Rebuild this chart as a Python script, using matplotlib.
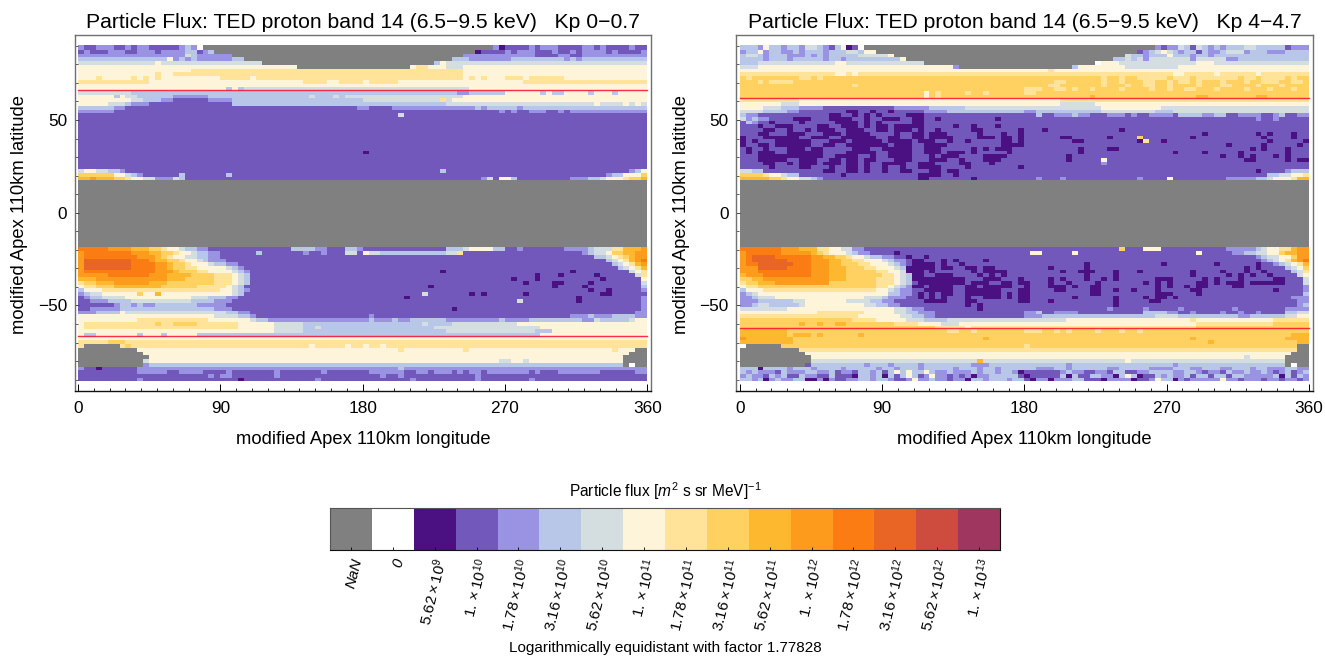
import numpy as np
import matplotlib
matplotlib.use("Agg")
import matplotlib.pyplot as plt
from matplotlib.colors import ListedColormap, BoundaryNorm
from matplotlib.transforms import ScaledTranslation

plt.rcParams["font.family"] = ["Liberation Sans", "DejaVu Sans"]
plt.rcParams["mathtext.fontset"] = "custom"
plt.rcParams["mathtext.rm"] = "Liberation Sans"
plt.rcParams["mathtext.it"] = "Liberation Sans:italic"
plt.rcParams["mathtext.default"] = "it"

# colour classes: N = NaN, 0 = zero, then 1..e = the logarithmic flux steps
CODES = list("N0123456789abcde")
COLORS = ["#808080", "#ffffff", "#4b1082", "#7358bc", "#9a93e3", "#b8c6e8",
          "#d4dde0", "#fdf4da", "#fee398", "#fed160", "#fdb830", "#fd9c1c",
          "#fc7c14", "#e86526", "#ce4c3d", "#9f3660"]
BAR_LABELS = ["NaN", "0", r"$5.62\times10^{9}$", r"$1.\times10^{10}$",
              r"$1.78\times10^{10}$", r"$3.16\times10^{10}$", r"$5.62\times10^{10}$",
              r"$1.\times10^{11}$", r"$1.78\times10^{11}$", r"$3.16\times10^{11}$",
              r"$5.62\times10^{11}$", r"$1.\times10^{12}$", r"$1.78\times10^{12}$",
              r"$3.16\times10^{12}$", r"$5.62\times10^{12}$", r"$1.\times10^{13}$"]

TITLES = ["Particle Flux: TED proton band 14 (6.5\u22129.5 keV)   Kp 0\u22120.7",
          "Particle Flux: TED proton band 14 (6.5\u22129.5 keV)   Kp 4\u22124.7"]
RED_LATS = [[66, -66.5], [62, -62.4]]

# rows run north to south, "3:5" means five cells of class 3
P1_NORTH = [
    "3 2:2 3:3 2:2 3 2 3:2 2:5 3 4 3 0 N:49 3 1 2:4 3 2 3:3 2:4 3:2 2 3 2:4 3 2:2",
    "2 3 2:3 3:3 2:2 3:3 2 3:4 4:2 2 3 4 N:44 1 2:4 3 2 3:3 2:3 3 2:2 3 2 3:4 2 3 2:4 3",
    "3:18 5 4 3:6 N:39 3:12 2:4 3:2 2:2 3:11",
    "4:15 6 3 4 3 4 3:6 4:2 N:35 4:3 3:7 4:9 3 4 3 4:11",
    "5:13 6 5:17 N:29 4 6 5:34",
    "6:37 N:19 6 7:2 6:3 5:3 6:31",
    "6:19 7:46 6:31",
    "6:13 7 6:2 7:49 6:31",
    "6:3 7 6:5 7 6 7 6 7 6:10 7:5 6 7:35 6 7 6 7 6:3 7:3 6 7:6 6:14",
    "7:12 6:26 7:4 6:2 7:4 6 7:5 6:21 7:21",
    "6:96",
    "6:25 4 6 4 5:38 6:30",
    "5:9 4:55 3:2 4:6 6:6 4 6 4:2 6:4 4 6:3 4 6:5",
    "6:6 4 6 5:2 4:6 3:6 4:17 5 4:3 5 4 5:3 5:17 6:31",
    "6:9 5:2 4:3 3:2 2:6 3:4 4:22 5:13 7 5 6:2 6:31",
    "6:5 5:3 4 3:3 2:14 4:22 4:14 5:3 5:22 6 5:4 6 5 6 5",
    "4:6 3:2 2:39 3 3 2:4 3:14 4 3 4 4:4 3 4:21",
    "3:6 2:65 3 2 3 2:2 3:3 2:2 3 2 3:13",
    "2:54 5 2:41",
    "2:96", "2:96", "2:96", "2:96", "2:96", "2:96", "2:96", "2:96", "2:96",
    "2:48 1 2:47",
    "2:96", "2:96", "2:96", "2:96",
    "5 6:2 5:2 4 4 3 2:53 4 2:31 3 4 6",
    "8:6 6:2 5 4 3 2:6 4 2:7 4 2:63 3 4:2 6 6:2 8",
    "9:2 a 9:3 8:2 7 6:2 5:2 3:3 5 4 2:50 3 5 2 6:2 4 2:9 3:3 4:2 5 6:3 7 8:2 9",
]
P1_SOUTH = [
    "b:5 a:4 9:3 8:2 7 6:2 5 4:2 3:2 2:14 4:4 3:2 2:3 4:2 3 2:14 4:3 5 6:4 4:2 2:2 3 2:7 3:4 4 5:3 7:2 9:3 a",
    "a b:8 a:3 9:2 8:2 7 6:2 5 4:2 3:2 2:6 4 2:7 3 2:2 3 2:3 5:2 2 6 5:2 4:11 5:2 7 2:20 3 4 5:2 6 8:2 9:2 a:2",
    "a b:9 a:3 9 8 7 6:2 5:2 4:2 3:2 2:63 4:2 5 6 7 8 9 a:2",
    "a c:8 b:3 a 9:2 8:2 7 6:2 5 4 3:3 2:64 4 5 6 7 9 a b",
    "a c:8 b:4 a:2 9 8:2 7 6:3 5 4:2 3:2 2:63 4 5 6 7 9 a",
    "a c:8 b:4 a:2 9 8:2 7:2 6:5 5 4 3 2:63 4 5 6 7 9",
    "a b:12 a:3 9 8:3 7:2 6:4 5 4 3 2:64 5 6 7",
    "a:5 b:7 a:3 9:4 8:4 7:3 6 5 4 2:65 5 7",
    "9:3 a:12 9:3 8:5 7:3 6 5 4 2:66 6",
    "7 8:2 9:3 a:6 9:3 8:8 7:3 6 5 4 2:66 5",
    "6 7:2 8:3 9:8 8:6 7:5 6 5 4 2:67 4",
    "4 6:3 7:20 6:2 5 4 3 2:66 3",
    "3 4 5:2 6:6 8 6:2 9 6:12 5 4 2:68",
    "2 3 4:2 5:4 6:11 5:3 4:3 3:2 2:68 3",
    "2:2 3:3 4:4 5:10 4:4 3:3 2:69 3",
    "2:6 3 4:2 3 4 3:2 4:7 3:5 2:70 3",
    "2:2 3:5 4:16 3:3 2:69 3",
    "3:3 4:4 6 5:17 4:2 3:2 2:65 3:2",
    "6:23 5:4 4:2 3 2:18 2 3 2:33 3:3 4 3:3 4:4 3:2",
    "6:10 7:12 6:7 5 4:2 3:4 3:13 4 3:3 4 3:2 4:6 3:9 4 3:4 4:9 3:2 5 4:5 5 6:2",
    "6 7:12 8 7:2 8:4 7:7 6:6 5:5 4:10 4:10 5 4:4 5:11 6:22",
    "6 7:26 6:6 5:5 4:2 5 4:7 4:12 5:18 6:18",
    "6:33 5:5 4:10 4:14 5:15 4:3 6:16",
    "6 4:2 6:7 4 6:3 4 6:5 4:58 6:18",
    "6:96",
    "7:5 8:3 7:88",
    "7 N:6 7 8 7:30 6 7:5 6 7:2 6 7:2 6 7:44",
    "N:10 6:44 7 6:10 7 6:24 7 6:3 N:2",
    "N:11 6:82 N:3",
    "N:12 6:80 N:4",
    "N:11 5 6:59 5:2 6:2 5 6:16 N:4",
    "N:11 3 4:80 N 0 N:2",
    "3 2:2 1 2:6 3:44 4 3:41",
    "2:10 3:5 2:2 3:4 2:4 3 2:7 3 2:7 3 2:7 3:6 2:2 3:2 2 3:3 2 3 2 3:2 2 3:7 2 3 2:3 3:7 2:6 3:2",
    "2:22 3 2 3:2 2:7 3 2:17 3 2:2 3 2:12 3 2:28",
    "2:10 3 2:16 1 2:12 3 2:15 3 2:10 3 2:8 3 2:19",
]
P2_NORTH = [
    "4:3 3 6 4:2 3 4:2 3 5:2 4 3 2 4 6 1 2 0 N:49 3 2 3:2 5 4 2 5 4 3 4 3 4:3 5:2 4:5 2 3:3",
    "3 4:2 6 3 4:2 3:2 4 3 4:3 3 4 4:2 5:2 4 6:2 N:44 2 3 4 5 6 5 4 3 4:2 2 4 3:2 4 5:3 3 4:3 3:3 4:4",
    "4 5:2 4 3 4:3 3:3 4 3 4 3 4:5 5:5 6 N:39 5 4:2 3 4:3 6 4:3 3 4:2 3 4:16",
    "4:4 3 4:3 3 4:5 3 4:2 3 4:9 6 N:35 4:2 5 4 5 3 5:7 3 5:5 3:2 4:12",
    "4:3 5:13 6:2 5:13 N:29 0 6:3 5:13 6:3 5:16",
    "5:3 6:33 3 N:19 4 6:8 5:9 6:22",
    "6:52 7 6:43",
    "7:16 6:2 7 6 7:53 6:2 7:5 6 7:6 6 7:8",
    "8 7 8:8 7:2 8 7 8:34 8:10 8:3 7 8:2 7 8:2 7:5 8 7:3 8 7:7 8 7:2 8 7:4 8 7 8:2",
    "8:3 7 8 7:4 8:44 7:2 8:6 7 8:2 7 8:3 7:2 8:2 7 8 7:2 8 7 8:3 7 8:3 7 8:2 7:3 8:2 7:2 8",
    "8:19 7 8:32 7:2 8:7 7 8:3 7 8:2 7:2 8:2 7 8:4 7 8:3 7:2 8:4 7 8:3 7 8:4",
    "8:48 7:3 8:2 7:2 8 7 8:2 7 8:4 7 8:4 7 8:2 7 8:2 7:2 8:3 7 8:4 7 8:3 7 8:3 7 8:2",
    "8:31 6 8 7 8:4 7 8:2 7 8:6 7:2 8:46",
    "8:31 6 8 7 8:14 8:11 9 8:17 9:2 8:8 9:2 8:7",
    "7:10 6:38 6:6 7:42",
    "6:7 5:3 6:38 6:6 5:6 6:36",
    "6:4 5:3 4:3 3:4 2:12 3:6 4:6 5:23 6:10 5:25",
    "5:4 4:4 3:2 2:15 1 2:5 3:4 4:13 3:2 4:11 5:9 4:3 5:23",
    "4 3:2 2:45 2:2 4 2:2 3:3 4 3:2 2:3 3:3 2 3 2:2 3:4 2 4:4 3:2 4:2 2:2 3:4 2:2 3 4 2:2 3:2",
    "5 3 4 3:2 2:82 3 2:2 3 2:5",
    "2 4 3 2:93",
    "2:96", "2:96", "2:96", "2:96", "2:96", "2:96", "2:96", "2:96", "2:96", "2:96", "2:96",
    "2:96",
    "5:2 4:2 2:88 3 4:3",
    "8:4 7 6:2 5 4:2 2:79 4:2 5:2 6:2 7",
    "9:5 8:2 7 6:2 5:2 4 3 2:36 3 2:3 3 2:12 3 2:4 6 2:9 3:5 4:2 5 6:3 7 9:2",
]
P2_SOUTH = [
    "b:7 a:3 9:3 7:2 6:2 5:2 3:2 2:43 8 2:3 6:3 2:11 3:5 4 5 6:2 7:2 9 a:2",
    "a b:6 a:5 9 8 7 6:3 5 4 3:2 2:27 6:2 2:5 6 2:20 6 2:5 3:2 4:2 5:2 6:2 8 9:2 a:2",
    "a b c:4 b:6 a:2 9:2 8:2 7 6:2 5 4:2 3:2 2:61 3 4 5:2 6:2 8 a:2",
    "a b c:6 b:4 a:3 9:2 8:2 7:2 6:3 5 4 3:2 2:60 3 4 5 6 7 9 a b",
    "a b:2 c:6 b:3 a:3 9:2 8:3 7:2 6:3 5 4 3 2:62 3 4 5 6 7 9",
    "a:3 c:5 b:4 a:3 9:3 8:3 7:2 6:3 5 4 3 2:63 4 5 6 8",
    "a:3 b:9 a:3 9:3 8:5 7:2 6:2 5 4 2:64 4 5 7",
    "9 a:3 b:8 a:3 9:3 8:6 7:2 6 5 4 2:65 5 6",
    "8:2 9:2 a:11 9:3 8:5 7:3 6 5 4 2:66 5",
    "7 8:2 9:3 a:9 8:8 7:3 6 5 4 2:66 5",
    "6 7:2 8:20 7:2 6 5 4 3 2:66 3",
    "4 6:3 7:19 6:2 5 4 3:2 2:66 3",
    "3 4 5 6:22 4:2 3:2 2:66 4",
    "3:2 4 5:3 6:15 5:3 4 3:3 2:65 3:3",
    "3:3 4:6 5:2 6:7 5:4 4:2 3:2 2:68 3:2",
    "3:2 4 5:2 4:5 5 6:10 5:2 4:2 3:2 2:67 3 4",
    "5:8 6:14 6:4 5:2 4 3:2 2:31 3 2:5 3 2:5 3 2:8 3 2:8 3:4",
    "6:13 7:8 6:5 5:2 4:2 3:3 2:15 3:2 4 2:2 3:4 2:11 4:4 3:2 2:2 3 2:4 3 2:2 3 2:2 3 2:4 4:2 5:2",
    "7:20 6:7 5:2 4:2 3:2 2:15 3:3 4:15 4:4 5:4 4:10 3:2 4:6 5:2 6:2",
    "8:19 7:4 6:5 5:3 4:4 5:13 5:7 6:21 7 6:13 7:6",
    "8:10 9 8:2 9 8:2 9:2 8:8 7:4 6:4 5:3 6:11 6:29 7:13 8:6",
    "8:33 7:5 6 7:9 7:29 8:19",
    "9:8 8:27 7:2 8:2 7 8:8 7:3 8:2 7 8 7 8:4 7 8:3 7 8:2 7 8:28",
    "9:8 8 9:3 8 9 8:6 9 8:72 9:3",
    "a 9:8 8:32 9 8:34 9 8:15 9:4",
    "9:9 8:70 9 8:14 9:2",
    "0 N:6 8:41 7 8:45 N:2",
    "N:10 7:84 N:2",
    "N:11 6:82 N:3",
    "N:12 6:73 5 6:6 N:4",
    "N:12 5:28 9 5:24 6 5:26 N:4",
    "N:11 2 4:9 3 4:3 3 4:4 3 4:8 3:3 4:13 3 4:17 3 4:18 N 0 N:2",
    "4:3 1 4:4 3 4:3 3 4:4 3 4:5 3 4:2 3 4:3 3 4:5 3 4:3 3 4:2 3 4:6 3:3 4:2 3 4:6 3:2 4:5 3:4 4:3 3:2 4:3 3:2 4:3 3 4:2 3:3 4:2 3:2",
    "4 3 4 3:3 2 4 3:3 4:2 3:2 4 2 3:2 2 4:2 3 4 2 4 6 4 6 4:2 6 4 3:2 4 3:3 4 3 4:2 3 4:2 3 1 2:6 3 4 3:2 2:2 3:2 2 4:2 2:2 3:2 4:4 3:2 4:2 3 2 3:2 2 4 3:2 4 3:2 4 3 2 3 4 2 3 4",
    "3 4 3:2 2 4 3 4 2:2 4 3:2 2:2 4 2:3 1 4:2 3 4 1 4 2 4 6 4 2 3 6 3:2 2 3 2 3 1 3:2 4:5 2 1 2:5 4 1 4 2:2 4:2 3:2 1 4 6 4 1 2:2 4 3 4 3:2 4 2 4:2 2 4:2 2 4:2 3:5 4 1 4 2 4 3",
    "4:2 3 4 1 3 4 3:2 4:2 1:2 3 1 3 2:2 3:2 4:2 3 4:2 3 2:2 3 6 3:2 4 3:2 2 3:2 1 4:2 3 4:3 3 4:2 2 1 3:2 1 3:3 4:2 2:3 1 3:4 1 2:2 3 6 4:2 1 3 2 3:5 6 3:2 2 3:3 2 3:2 2 3:2 2 3",
]

# single dark cells, row number: column runs
P1_SOUTH_DARK = {6: "61 83", 7: "77 81 87", 8: "73 77 88", 9: "75 80-81 86", 10: "59 80 85",
                 11: "86 89", 12: "66 68 75 88-89", 13: "55 84", 14: "84", 16: "63"}
P2_NORTH_DARK = {
    17: "18-19 22 25",
    18: "15-16 19 21 23 28-30",
    19: "9-11 15-18 21 24-26 29-30 33 43",
    20: "5 10 16-19 21 23 29-30",
    21: "3 6-8 13-14 17-19 21 23-24 26-30 36 39 43",
    22: "4-5 8 11 13-15 18-20 23-24 26-28 30 33 39-40 47 51 64",
    23: "3-4 8-10 14-16 18-21 26 29-30 32-34 40 44 47 78 87 89 93",
    24: "0 4-9 12-14 17-22 25-26 29-30 32-35 40-42 44-45 47 54-55 62 76 88 93",
    25: "0 2 6-11 15-17 19-23 25-28 30-32 35 38 44-45 47 56-57 67 71 89 95",
    26: "0 3-4 6-11 14-15 18-24 26-28 31-34 44-47 82 88 94",
    27: "1 4 8-10 12-13 19-21 24-28 31-33 39 41 43-45 57 62-63 86 88 92",
    28: "1 3-5 8-13 18-22 25-28 31-33 35-37 39 45 57 73 78 84 92",
    29: "3-13 16-19 22 25-28 32 34-36 41-44 55 81 84 86 90 92",
    30: "3-7 10-12 15-16 18-19 21-22 26-28 32-34 37 41-43 55 85-86 92 94-95",
    31: "4-5 8 10-12 14-16 18-19 21 24-27 30-32 37-38 42",
    32: "5 10-11 15 18-19 21 24 27 30-33 38 47",
    33: "14-15 18-19 21 24 27-28 32-33 35-36 87",
    34: "17 30-33 36",
    35: "30-31 39",
}
P2_SOUTH_DARK = {
    1: "26",
    2: "28 31",
    3: "29-30 34 36 41",
    4: "29-32 34 37 58 71 80 87",
    5: "28-32 34-35 38-39 41-42 52 58 85 87",
    6: "28-30 32 39 41-44 54 57-59 63 67 76 81 85 88",
    7: "29-30 33-35 40 42 44 58 63 76 82 84 86 89",
    8: "29-37 41-43 47 52 54 58 61 63 70-72 78 80 84 90-91",
    9: "30-37 39-41 44-45 47-48 52 55 60 68 70 72 77-78 80 82-84 86-91",
    10: "29-30 32-35 38-39 41-45 48 52-54 56 59-60 70 72 75 77-78 83-84",
    11: "31-35 38-43 47-48 53-54 59-60 63 66 70 76-77 90",
    12: "30 32 34-35 38-43 45 47-48 59-60 70-72 77",
    13: "30 32 34 38 41-43 45 47-48 56 63 68 70-71 73",
    14: "31-34 38-39 47-48 52 63 69-70",
    15: "38 40 63",
    16: "40",
}
# odd cells: (part, row, column, class)
P1_ODD = [("S", 12, 58, "5"), ("S", 14, 74, "5")]
P2_ODD = [("N", 24, 67, "8"), ("N", 25, 68, "7"), ("N", 30, 61, "6"), ("N", 31, 61, "3")]


def decode(row):
    out = []
    for tok in row.split():
        if ":" in tok:
            s, n = tok.split(":")
            out += [s] * int(n)
        else:
            out.append(tok)
    out = (out + [out[-1]] * 96)[:96]
    return [CODES.index(s) for s in out]


def put_dark(rows, dark):
    for r, runs in dark.items():
        for run in runs.split():
            a, _, b = run.partition("-")
            rows[r, int(a):int(b or a) + 1] = CODES.index("1")


def build(north, south, north_dark, south_dark, odd):
    n = np.array([decode(r) for r in north])
    s = np.array([decode(r) for r in south])
    put_dark(n, north_dark)
    put_dark(s, south_dark)
    for part, r, c, code in odd:
        (n if part == "N" else s)[r, c] = CODES.index(code)
    gap = np.zeros((18, 96), dtype=int)
    return np.vstack([n, gap, s])


W, H = 1325, 657
fig = plt.figure(figsize=(W / 100, H / 100), dpi=100)


def px_axes(l, t, r, b):
    return fig.add_axes([l / W, 1 - b / H, (r - l) / W, (b - t) / H])


cmap = ListedColormap(COLORS)
norm = BoundaryNorm(np.arange(17) - 0.5, 16)

lon_edges = np.linspace(0, 360, 97)
lat_edges = np.r_[90.4, 87.75 - 2.008 * np.arange(90)]

grids = [build(P1_NORTH, P1_SOUTH, {}, P1_SOUTH_DARK, P1_ODD),
         build(P2_NORTH, P2_SOUTH, P2_NORTH_DARK, P2_SOUTH_DARK, P2_ODD)]
boxes = [(74.7, 34.7, 651, 391.3), (736.4, 34.7, 1312.7, 391.3)]

for i in range(2):
    l, t, r, b = boxes[i]
    ax = px_axes(l, t, r, b)
    ax.pcolormesh(lon_edges, lat_edges, grids[i], cmap=cmap, norm=norm, linewidth=0)
    for lat in RED_LATS[i]:
        ax.plot([0, 360], [lat, lat], color="#ff0a28", lw=1.0, alpha=0.85)
    ax.set_xlim(-2.1, 362.4)
    ax.set_ylim(-96.3, 96)
    ax.set_xticks([0, 90, 180, 270, 360])
    ax.set_xticks(np.arange(0, 361, 10), minor=True)
    ax.set_yticks([-50, 0, 50])
    ax.set_yticklabels(["\u221250", "0", "50"])
    ax.set_yticks(np.arange(-90, 91, 10), minor=True)
    ax.tick_params(axis="x", which="major", direction="in", length=5, width=0.7, labelsize=12.4, pad=7)
    ax.tick_params(axis="x", which="minor", direction="in", length=2.4, width=0.6)
    ax.tick_params(axis="y", which="major", direction="in", length=3.2, width=0.7, color="#444444", labelsize=12.4, pad=5.5)
    ax.tick_params(axis="y", which="minor", direction="in", length=2, width=0.6, color="#444444")
    for side in ["top", "left", "right"]:
        ax.spines[side].set_color("#707070")
        ax.spines[side].set_linewidth(1.0)
    ax.spines["bottom"].set_color("#111111")
    ax.spines["bottom"].set_linewidth(1.0)
    cx = (l + r) / 2
    fig.text(cx / W, 1 - 22 / H, TITLES[i], ha="center", va="center", fontsize=15.2)
    fig.text(cx / W, 1 - 440 / H, "modified Apex 110km longitude", ha="center", va="center", fontsize=13.2)
    fig.text((l - 55) / W, 1 - 214 / H, "modified Apex 110km latitude", ha="center", va="center",
             rotation=90, fontsize=13.2)

cax = px_axes(330, 507.7, 1000, 550.3)
cax.pcolormesh(np.arange(17), [0, 1], np.arange(16).reshape(1, 16), cmap=cmap, norm=norm)
cax.set_xlim(0, 16)
cax.set_yticks([])
cax.set_xticks(np.arange(16) + 0.5)
cax.set_xticklabels(BAR_LABELS, rotation=76, ha="right", va="center", rotation_mode="anchor",
                    fontsize=11, style="italic")
cax.tick_params(axis="x", direction="in", length=2.5, width=0.6, pad=6)
# the reference labels sit a little right of their ticks
shift = ScaledTranslation(5 / 72, 0, fig.dpi_scale_trans)
for lab in cax.get_xticklabels():
    lab.set_transform(lab.get_transform() + shift)
for side in ["top", "left"]:
    cax.spines[side].set_color("#555555")
for side in ["bottom", "right"]:
    cax.spines[side].set_color("#111111")

fig.text(665 / W, 1 - 491 / H, r"Particle flux [$m^{2}$ s sr MeV]$^{-1}$", ha="center", va="center", fontsize=11.2)
fig.text(665 / W, 1 - 648 / H, "Logarithmically equidistant with factor 1.77828", ha="center", va="center",
         fontsize=11)

fig.savefig("out.png", dpi=100)
